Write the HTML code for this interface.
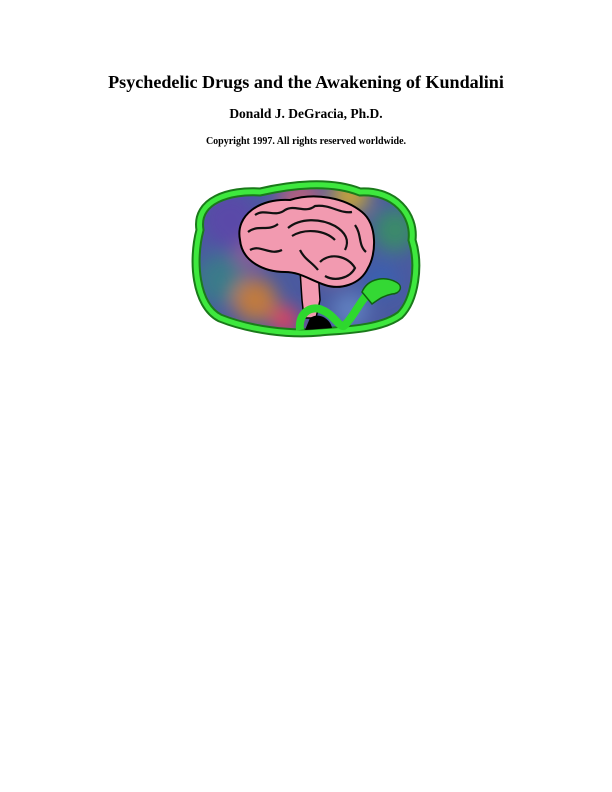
<!DOCTYPE html>
<html><head><meta charset="utf-8"><style>
html,body{margin:0;padding:0;background:#fff;}
body{width:612px;height:792px;position:relative;overflow:hidden;font-family:"Liberation Serif",serif;font-weight:bold;color:#000;}
.t{position:absolute;left:0;width:612px;text-align:center;white-space:nowrap;}
</style></head><body>
<div class="t" style="top:72px;font-size:18.1px;">Psychedelic Drugs and the Awakening of Kundalini</div>
<div class="t" style="top:106px;font-size:13.5px;">Donald J. DeGracia, Ph.D.</div>
<div class="t" style="top:136px;font-size:10px;">Copyright 1997. All rights reserved worldwide.</div>
<svg style="position:absolute;left:0;top:0" width="612" height="792" viewBox="0 0 612 792">
<defs>
<filter id="bl" x="-20%" y="-20%" width="140%" height="140%"><feGaussianBlur stdDeviation="9"/></filter>
<clipPath id="cp"><path d="M200,230 C195,200 230,190 260,192 C290,185 330,180 360,192 C395,190 415,215 412,240 C420,265 415,300 400,315 C380,330 340,330 320,332 C290,335 250,330 220,318 C195,305 192,260 200,230Z"/></clipPath>
</defs>
<g clip-path="url(#cp)">
<rect x="180" y="175" width="250" height="165" fill="#4a5aa0"/>
<g filter="url(#bl)">
<circle cx="230" cy="220" r="28" fill="#5a4aa8"/>
<circle cx="220" cy="280" r="25" fill="#3a7a8a"/>
<circle cx="255" cy="300" r="22" fill="#c07a40"/>
<circle cx="285" cy="320" r="14" fill="#e04060"/>
<circle cx="300" cy="200" r="22" fill="#b06080"/>
<circle cx="350" cy="195" r="20" fill="#c0a040"/>
<circle cx="395" cy="230" r="22" fill="#3a8a6a"/>
<circle cx="380" cy="280" r="18" fill="#3a60b0"/>
<circle cx="350" cy="310" r="18" fill="#6080c0"/>
<circle cx="250" cy="255" r="16" fill="#8a5a9a"/>
<circle cx="330" cy="260" r="20" fill="#a06a90"/>
</g>
</g>
<path d="M200,230 C195,200 230,190 260,192 C290,185 330,180 360,192 C395,190 415,215 412,240 C420,265 415,300 400,315 C380,330 340,330 320,332 C290,335 250,330 220,318 C195,305 192,260 200,230Z" fill="none" stroke="#1a7a1a" stroke-width="9"/>
<path d="M200,230 C195,200 230,190 260,192 C290,185 330,180 360,192 C395,190 415,215 412,240 C420,265 415,300 400,315 C380,330 340,330 320,332 C290,335 250,330 220,318 C195,305 192,260 200,230Z" fill="none" stroke="#3ee83e" stroke-width="5"/>
<path d="M300,270 L318,270 L320,300 L316,318 L304,318 L302,300Z" fill="#f29ab0" stroke="#000" stroke-width="1.5"/>
<path d="M240,240 C235,215 260,198 290,200 C315,192 345,198 362,212 C378,225 376,255 368,268 C360,285 340,290 325,285 C310,280 300,272 285,272 C265,272 242,262 240,240Z" fill="#f29ab0" stroke="#000" stroke-width="2"/>
<g fill="none" stroke="#111" stroke-width="2.2">
<path d="M255,215 C265,208 275,218 285,210 C295,204 305,214 315,206 C330,204 340,214 352,212"/>
<path d="M248,232 C258,224 268,232 278,224"/>
<path d="M288,228 C300,218 320,218 335,226 C345,232 350,240 345,250"/>
<path d="M292,236 C305,228 325,230 335,240"/>
<path d="M250,250 C260,244 270,256 282,250"/>
<path d="M355,225 C362,235 358,245 366,252"/>
<path d="M320,262 C330,252 348,256 355,268 C350,278 335,282 325,276"/>
<path d="M300,250 C305,260 312,262 318,270"/>
</g>
<path d="M300,330 C298,312 312,305 322,310 C335,315 340,330 345,325 C355,315 360,300 372,290" fill="none" stroke="#2ed82e" stroke-width="8"/>
<path d="M310,318 C318,312 330,318 332,328 L305,330Z" fill="#000"/>
<path d="M362,292 C368,278 385,276 396,282 C404,286 400,294 392,294 C382,296 378,300 372,304Z" fill="#34d834" stroke="#106010" stroke-width="1.5"/>
</svg>
</body></html>
